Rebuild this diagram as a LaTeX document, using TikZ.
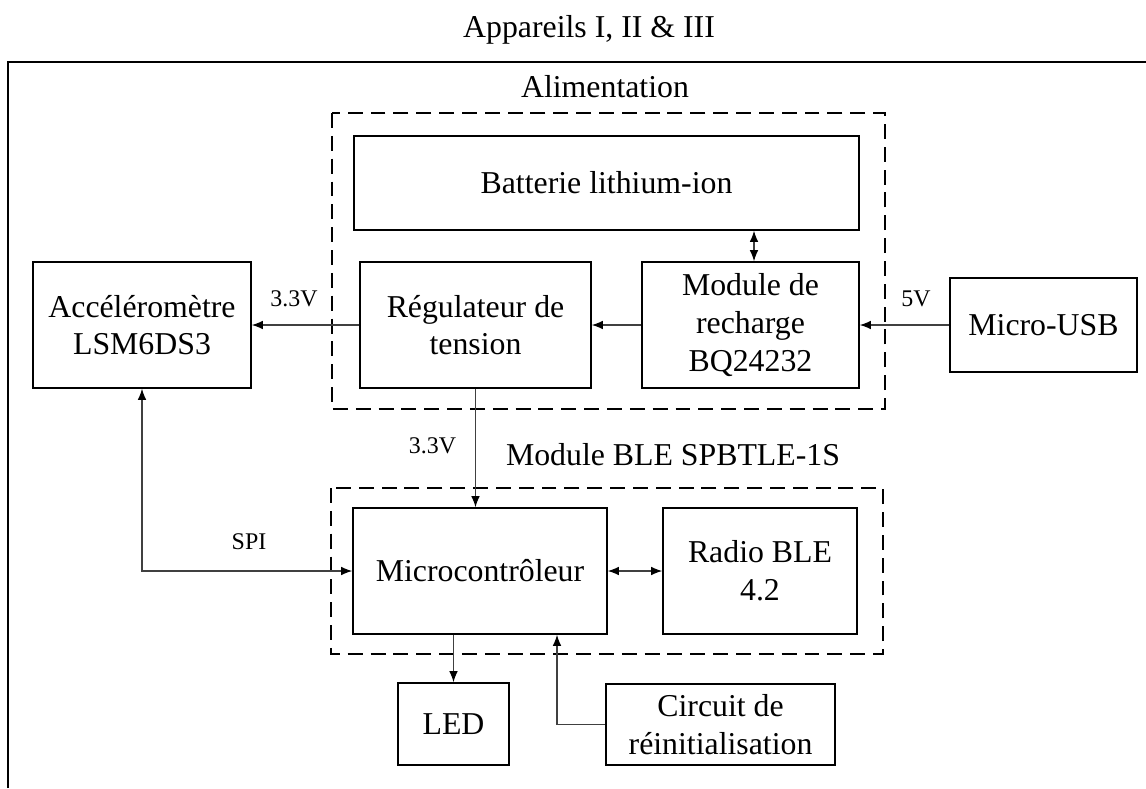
\documentclass[tikz,border=0pt]{standalone}
\usepackage{fontspec}
\setmainfont{Liberation Serif}
\usetikzlibrary{arrows.meta,calc}

\tikzset{
  box/.style={draw,line width=0.9pt,inner sep=0pt,align=center,font=\fontsize{18.1}{21.5}\selectfont},
  grp/.style={draw,line width=0.85pt,dash pattern=on 8.5pt off 4.5pt},
  lbl/.style={anchor=base,inner sep=0pt,font=\fontsize{13.6}{16}\selectfont},
  ttl/.style={anchor=base,inner sep=0pt,font=\fontsize{18.1}{21.5}\selectfont},
  wire/.style={draw=black!75,line width=0.6pt,-{Latex[length=2.2mm,width=1.7mm,color=black]}},
  wire2/.style={wire,{Latex[length=2.2mm,width=1.7mm,color=black]}-{Latex[length=2.2mm,width=1.7mm,color=black]}}
}

\begin{document}
\begin{tikzpicture}[x=0.02cm,y=-0.02cm]
    \useasboundingbox (0,0) rectangle (1146,788);
    \draw[line width=1.1pt] (8,788) -- (8,62) -- (1146,62);
    \node[ttl] (title) at (589,37) {Appareils I, II \& III};

    \draw[grp] (332,113) rectangle (885,409);
    \node[ttl] (alim) at (605,97) {Alimentation};
    \draw[grp] (331,488) rectangle (883,654);
    \node[ttl] (ble) at (673,465) {Module BLE SPBTLE-1S};

    \node[box,minimum width=505*0.02cm,minimum height=94*0.02cm] (batt) at (606.5,183) {Batterie lithium-ion};
    \node[box,minimum width=231*0.02cm,minimum height=126*0.02cm] (reg) at (475.5,325) {Régulateur de\\tension};
    \node[box,minimum width=217*0.02cm,minimum height=126*0.02cm] (charge) at (750.5,325) {Module de\\recharge\\BQ24232};
    \node[box,minimum width=218*0.02cm,minimum height=126*0.02cm] (accel) at (142,325) {Accéléromètre\\LSM6DS3};
    \node[box,minimum width=187*0.02cm,minimum height=94*0.02cm] (usb) at (1043.5,325) {Micro-USB};
    \node[box,minimum width=254*0.02cm,minimum height=126*0.02cm] (mcu) at (480,571) {Microcontrôleur};
    \node[box,minimum width=194*0.02cm,minimum height=126*0.02cm] (radio) at (760,571) {Radio BLE\\4.2};
    \node[box,minimum width=111*0.02cm,minimum height=82*0.02cm] (led) at (453.5,724) {LED};
    \node[box,minimum width=229*0.02cm,minimum height=81*0.02cm] (reset) at (720.5,724.5) {Circuit de\\réinitialisation};

    \draw[wire] (reg.west) -- (accel.east);
    \draw[wire] (charge.west) -- (reg.east);
    \draw[wire] (usb.west) -- (charge.east);
    \draw[wire2] ([xshift=2pt]charge.north) -- ([xshift=2pt]charge.north |- batt.south);
    \draw[wire] (reg.south) -- (reg.south |- mcu.north);
    \draw[wire2] (accel.south) |- (mcu.west);
    \draw[wire2] (mcu.east) -- (radio.west);
    \draw[wire] (led.north |- mcu.south) -- (led.north);
    \draw[wire] (reset.west) -| ($(mcu.south)+(77,0)$);

    \node[lbl] (v1) at (294,306) {3.3V};
    \node[lbl] (v2) at (916,306) {5V};
    \node[lbl] (v3) at (432.5,453) {3.3V};
    \node[lbl] (spi) at (249,549) {SPI};
   \end{tikzpicture}
\end{document}
